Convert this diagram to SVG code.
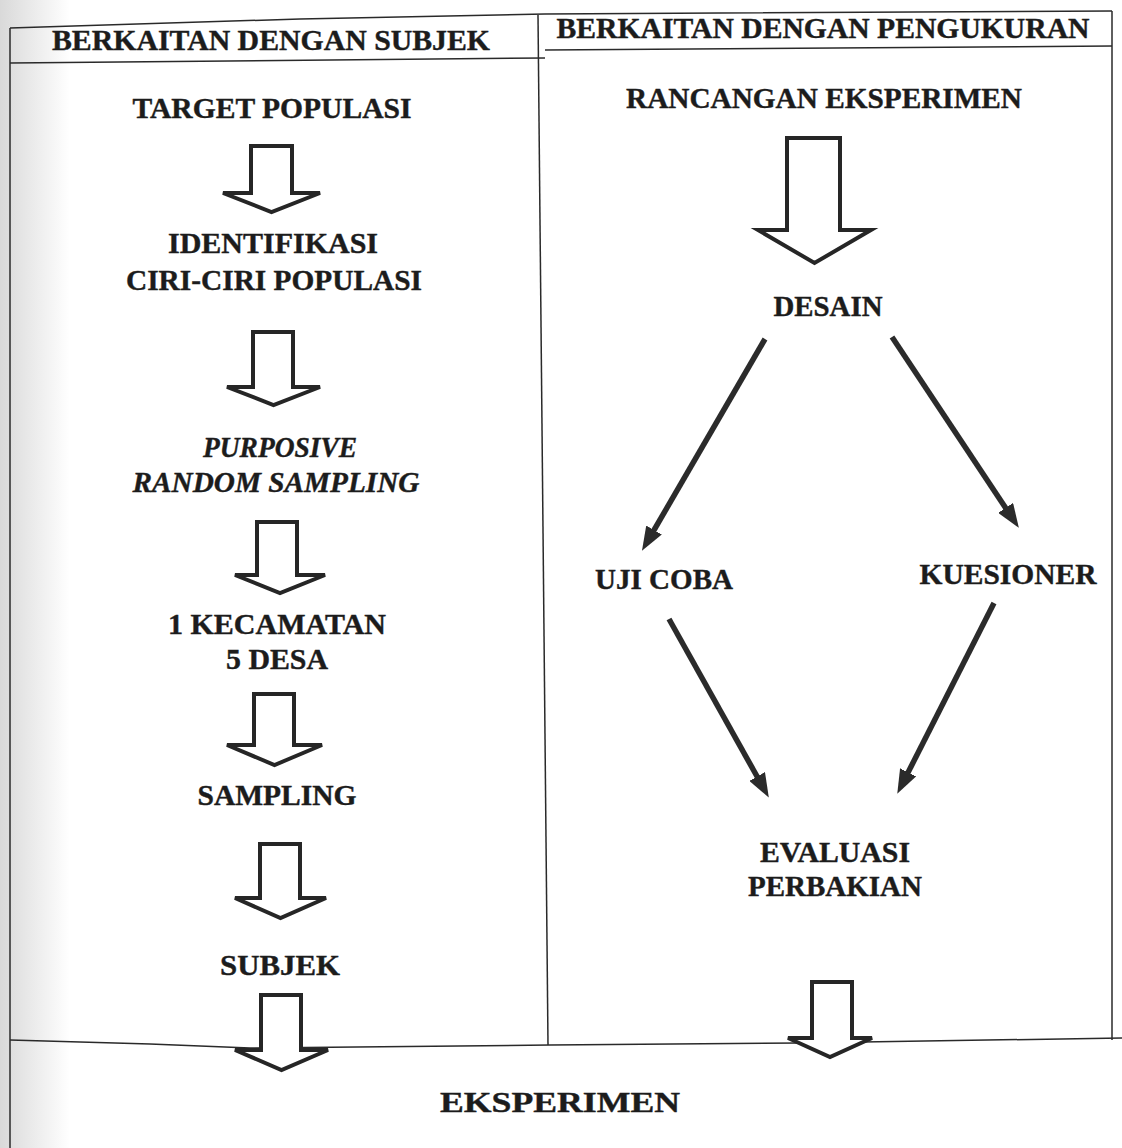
<svg xmlns="http://www.w3.org/2000/svg" width="1122" height="1148" viewBox="0 0 1122 1148">
<style>
.t{font-family:"Liberation Serif","Times New Roman",serif;font-weight:bold;font-size:29px;fill:#1c1c1c;stroke:#1c1c1c;stroke-width:0.4;text-anchor:middle}
.i{font-style:italic}
.frame{fill:none;stroke:#2a2a2a;stroke-width:1.5}
.blk{fill:#ffffff;stroke:#262626;stroke-width:4;stroke-linejoin:miter}
.ln{stroke:#2b2b2b;stroke-width:5.5;fill:none;marker-end:url(#ah)}
</style>
<defs>
<linearGradient id="shade" x1="0" y1="0" x2="1" y2="0">
<stop offset="0" stop-color="#d9d9d9"/>
<stop offset="1" stop-color="#ffffff"/>
</linearGradient>
<marker id="ah" viewBox="0 0 24 18" markerUnits="userSpaceOnUse" markerWidth="24" markerHeight="18" refX="8" refY="9" orient="auto">
<path d="M0,0 L24,9 L0,18 z" fill="#2b2b2b"/>
</marker>
</defs>
<rect width="1122" height="1148" fill="#ffffff"/>
<rect x="0" y="0" width="70" height="1148" fill="url(#shade)"/>
<g id="table">
<polyline class="frame" points="10,28 300,19 545,14 1112,11"/>
<polyline class="frame" points="10,63 545,58"/>
<polyline class="frame" points="545,50 1112,46"/>
<line class="frame" x1="10" y1="28" x2="10" y2="1148"/>
<line class="frame" x1="1112" y1="11" x2="1112" y2="1040"/>
<line class="frame" x1="538" y1="15" x2="548" y2="1045"/>
<polyline class="frame" points="10,1040 150,1044 250,1048 550,1045 800,1043 1122,1038"/>
</g>
<g id="headers">
<text class="t" x="271" y="50" textLength="438" lengthAdjust="spacingAndGlyphs">BERKAITAN DENGAN SUBJEK</text>
<text class="t" x="823" y="38" textLength="533" lengthAdjust="spacingAndGlyphs">BERKAITAN DENGAN PENGUKURAN</text>
</g>
<g id="n-target"><text class="t" x="272" y="118" textLength="279" lengthAdjust="spacingAndGlyphs">TARGET POPULASI</text></g>
<g id="n-identifikasi">
<text class="t" x="273" y="253" textLength="210" lengthAdjust="spacingAndGlyphs">IDENTIFIKASI</text>
<text class="t" x="274" y="290" textLength="296" lengthAdjust="spacingAndGlyphs">CIRI-CIRI POPULASI</text>
</g>
<g id="n-purposive">
<text class="t i" x="280" y="457" textLength="154" lengthAdjust="spacingAndGlyphs">PURPOSIVE</text>
<text class="t i" x="276" y="492" textLength="287" lengthAdjust="spacingAndGlyphs">RANDOM SAMPLING</text>
</g>
<g id="n-kecamatan">
<text class="t" x="277" y="634" textLength="218" lengthAdjust="spacingAndGlyphs">1 KECAMATAN</text>
<text class="t" x="277" y="669" textLength="102" lengthAdjust="spacingAndGlyphs">5 DESA</text>
</g>
<g id="n-sampling"><text class="t" x="277" y="805" textLength="159" lengthAdjust="spacingAndGlyphs">SAMPLING</text></g>
<g id="n-subjek"><text class="t" x="280" y="975" textLength="120" lengthAdjust="spacingAndGlyphs">SUBJEK</text></g>
<g id="n-rancangan"><text class="t" x="824" y="108" textLength="396" lengthAdjust="spacingAndGlyphs">RANCANGAN EKSPERIMEN</text></g>
<g id="n-desain"><text class="t" x="828" y="316" textLength="109" lengthAdjust="spacingAndGlyphs">DESAIN</text></g>
<g id="n-ujicoba"><text class="t" x="664" y="589" textLength="138" lengthAdjust="spacingAndGlyphs">UJI COBA</text></g>
<g id="n-kuesioner"><text class="t" x="1008" y="584" textLength="177" lengthAdjust="spacingAndGlyphs">KUESIONER</text></g>
<g id="n-evaluasi">
<text class="t" x="835" y="862" textLength="150" lengthAdjust="spacingAndGlyphs">EVALUASI</text>
<text class="t" x="835" y="896" textLength="174" lengthAdjust="spacingAndGlyphs">PERBAKIAN</text>
</g>
<g id="n-eksperimen"><text class="t" x="560" y="1112" textLength="240" lengthAdjust="spacingAndGlyphs">EKSPERIMEN</text></g>
<g id="connectors">
<path class="blk" d="M251,146 L292,146 L292,193 L320,193 L271.5,212 L223,193 L251,193 Z"/>
<path class="blk" d="M253,332 L293,332 L293,387 L320,387 L273.5,405 L227,387 L253,387 Z"/>
<path class="blk" d="M257,522 L297,522 L297,575 L325,575 L280,593 L235,575 L257,575 Z"/>
<path class="blk" d="M254,694 L294,694 L294,745 L322,745 L274.5,765 L227,745 L254,745 Z"/>
<path class="blk" d="M260,844 L300,844 L300,898 L326,898 L280.5,918 L235,898 L260,898 Z"/>
<path class="blk" d="M261,995 L301,995 L301,1050 L328,1050 L281.5,1070 L235,1050 L261,1050 Z"/>
<path class="blk" d="M787,138 L840,138 L840,230 L871,230 L814.5,263 L758,230 L787,230 Z"/>
<path class="blk" d="M812,982 L852,982 L852,1038 L872,1038 L830,1057 L788,1038 L812,1038 Z"/>
<line class="ln" x1="765" y1="339" x2="650" y2="537"/>
<line class="ln" x1="892" y1="337" x2="1010" y2="514.5"/>
<line class="ln" x1="669" y1="619" x2="761" y2="783.5"/>
<line class="ln" x1="994" y1="603" x2="904.5" y2="779.5"/>
</g>
</svg>
